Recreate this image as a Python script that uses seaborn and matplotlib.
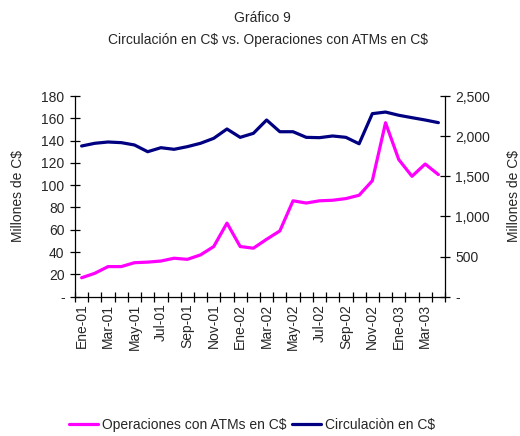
import matplotlib
matplotlib.use("Agg")
import matplotlib.pyplot as plt
import seaborn as sns
import pandas as pd
import numpy as np
from matplotlib.ticker import FixedLocator, FuncFormatter
from matplotlib.lines import Line2D

# Data (monthly, Ene-01 .. Abr-03)
months = ["Ene-01", "Feb-01", "Mar-01", "Abr-01", "May-01", "Jun-01", "Jul-01",
          "Ago-01", "Sep-01", "Oct-01", "Nov-01", "Dic-01", "Ene-02", "Feb-02",
          "Mar-02", "Abr-02", "May-02", "Jun-02", "Jul-02", "Ago-02", "Sep-02",
          "Oct-02", "Nov-02", "Dic-02", "Ene-03", "Feb-03", "Mar-03", "Abr-03"]
atm_ops = [17, 21, 27, 27, 30.5, 31, 32, 34.5, 33.5, 37.5, 45, 66, 45, 43.5,
           51.5, 59, 86, 84, 86, 86.5, 88, 91, 104, 156, 123, 108, 119, 109.5]
circulacion = [1877, 1911, 1927, 1919, 1890, 1806, 1856, 1836, 1869, 1911, 1973,
               2089, 1985, 2035, 2201, 2055, 2055, 1985, 1981, 2002, 1985, 1905,
               2280, 2300, 2260, 2230, 2201, 2168]
label_months = months[::2]
left_ticks = [0, 20, 40, 60, 80, 100, 120, 140, 160, 180]
right_ticks = [0, 500, 1000, 1500, 2000, 2500]

sns.set_theme(style="white")
plt.rcParams['font.family'] = ['Liberation Sans', 'DejaVu Sans']
FS = 10

df = pd.DataFrame({"i": np.arange(len(months)), "atm": atm_ops, "circ": circulacion})

fig = plt.figure(figsize=(5.2, 4.36), dpi=100)
ax = fig.add_axes([75/520, 1 - 296.7/436, 370/520, 200.7/436])
ax2 = ax.twinx()

MAG = "#FF00FF"
NAVY = "#000080"
sns.lineplot(data=df, x="i", y="atm", ax=ax, color=MAG, linewidth=2.3, legend=False)
sns.lineplot(data=df, x="i", y="circ", ax=ax2, color=NAVY, linewidth=2.3, legend=False)

ax.set_xlim(-0.5, len(months) - 0.5)
ax.set_ylim(0, 180)
ax2.set_ylim(0, 2500)

# x ticks: boundaries as tick marks, labels at centers
ax.xaxis.set_major_locator(FixedLocator(np.arange(0, len(months), 2)))
ax.set_xticklabels(label_months, rotation=90, fontsize=FS)
ax.xaxis.set_minor_locator(FixedLocator(np.arange(-0.5, len(months), 1)))
ax.tick_params(axis="x", which="major", length=0, pad=5)
ax.tick_params(axis="x", which="minor", length=7, direction="inout", width=0.9, color="black", bottom=True)

ax.yaxis.set_major_locator(FixedLocator(left_ticks))
ax.yaxis.set_major_formatter(FuncFormatter(lambda v, p: "-" if v == 0 else f"{int(v)}"))
ax.tick_params(axis="y", length=7, direction="inout", width=0.9, color="black", labelsize=FS, pad=4, left=True)

ax2.yaxis.set_major_locator(FixedLocator(right_ticks))
ax2.yaxis.set_major_formatter(FuncFormatter(lambda v, p: "-" if v == 0 else f"{int(v):,}"))
ax2.tick_params(axis="y", length=7, direction="inout", width=0.9, color="black", labelsize=FS, pad=4, right=True)

for a in (ax, ax2):
    a.set_xlabel("")
    a.spines["top"].set_visible(False)
    a.grid(False)
ax.spines["right"].set_visible(False)
ax2.spines["left"].set_visible(False)
ax2.spines["bottom"].set_visible(False)
for a, s in [(ax, "left"), (ax, "bottom"), (ax2, "right")]:
    a.spines[s].set_color("black")
    a.spines[s].set_linewidth(0.9)

ax.set_ylabel("Millones de C\\$", fontsize=FS, labelpad=12)
ax2.set_ylabel("Millones de C\\$", fontsize=FS, labelpad=12, rotation=90)

fig.text(0.505, 1 - 18/436, "Gráfico 9", ha="center", va="center", fontsize=FS)
fig.text(0.515, 1 - 40/436, "Circulación en C\\$ vs. Operaciones con ATMs en C\\$",
         ha="center", va="center", fontsize=FS)

handles = [Line2D([], [], color=MAG, lw=2.3), Line2D([], [], color=NAVY, lw=2.3)]
fig.legend(handles, ["Operaciones con ATMs en C\\$", "Circulaciòn en C\\$"],
           loc="center", bbox_to_anchor=(0.485, 1 - 425/436), ncol=2, frameon=False,
           fontsize=FS, handlelength=2.1, handletextpad=0.3, columnspacing=0.4)

fig.savefig("out.png", dpi=100)
